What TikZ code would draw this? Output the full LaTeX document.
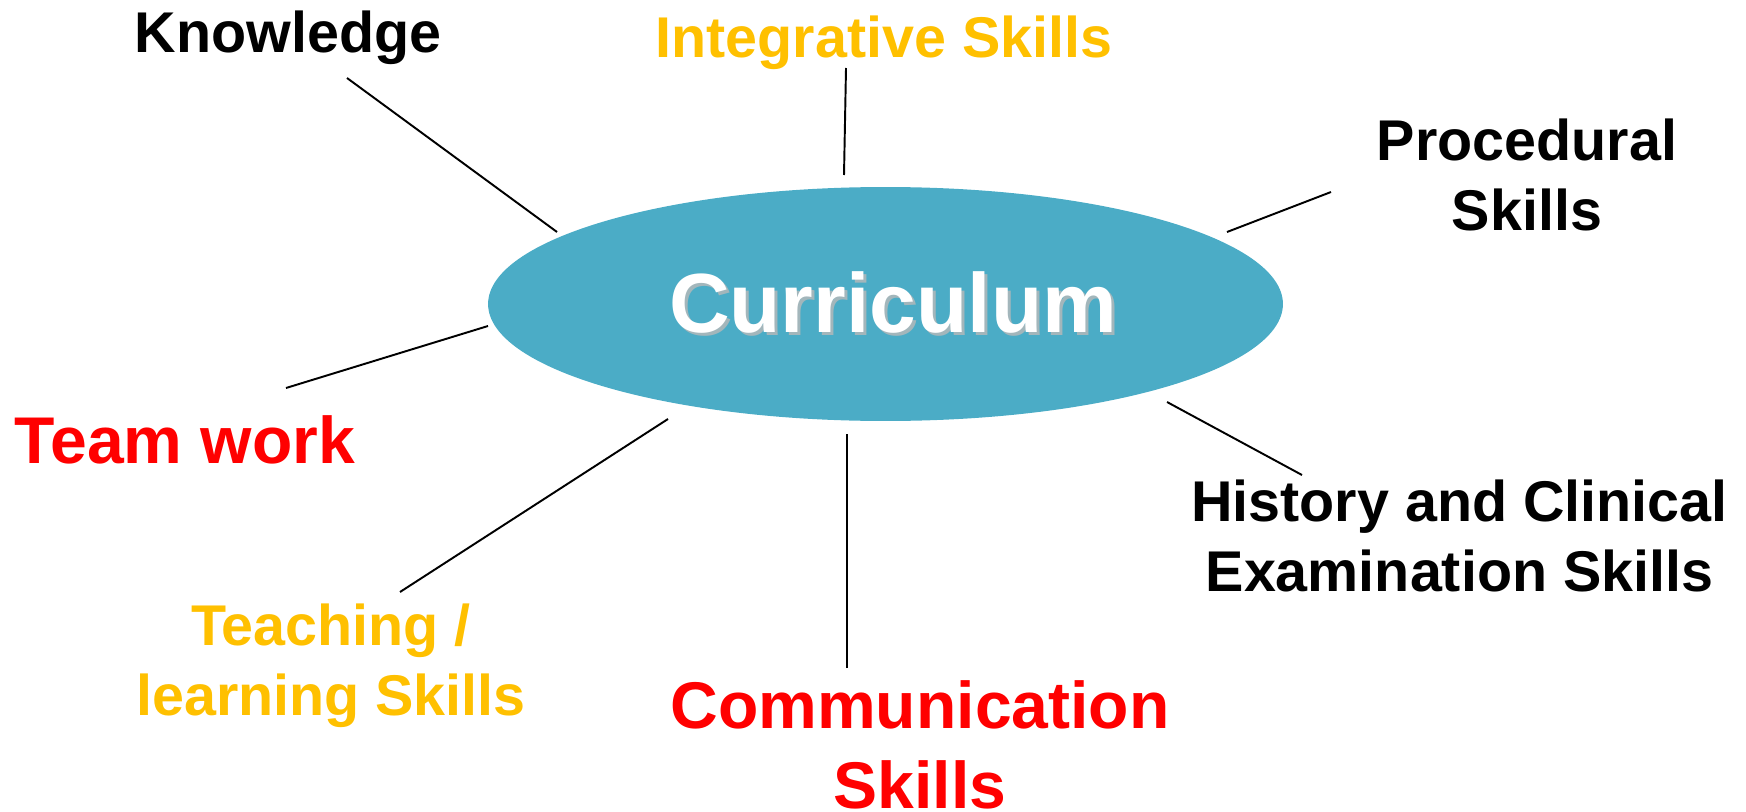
\documentclass[tikz,border=0pt]{standalone}
\usepackage{fontspec}
\setmainfont{Liberation Sans}
\usepackage{xcolor}
\usetikzlibrary{calc,shapes.geometric}

\definecolor{hubblue}{HTML}{4BACC6}
\definecolor{skillyellow}{HTML}{FFC000}
\definecolor{skillred}{HTML}{FF0000}

\newcommand{\skillfont}{\bfseries\fontsize{32.7pt}{39.3pt}\selectfont}
\newcommand{\bigskillfont}{\bfseries\fontsize{37.6pt}{45.5pt}\selectfont}
\newcommand{\hubfont}{\bfseries\fontsize{47.8pt}{57pt}\selectfont}

\begin{document}
\begin{tikzpicture}[x=0.02cm, y=-0.02cm,
  lbl/.style={inner sep=0, anchor=base, align=center, font=\skillfont},
  biglbl/.style={lbl, font=\bigskillfont},
  spoke/.style={line width=1.1pt, black}]

\useasboundingbox (0,0) rectangle (1746,811);

\node[ellipse, fill=hubblue, inner sep=0, minimum width=15.9cm, minimum height=4.68cm] (hub) at (885.5,304) {};

% text shadow, then the white title on top
\node[lbl, font=\hubfont, text=gray!55, opacity=.8] (hubshadow) at (896,335) {Curriculum};
\node[lbl, font=\hubfont, text=white] (hubtext) at (893,332) {Curriculum};

% multi-line labels sit on the baseline of their last line
\node[lbl, text=black] (know) at (288,53) {Knowledge};
\node[lbl, text=skillyellow] (integ) at (884,58) {Integrative Skills};
\node[lbl, text=black] (proc) at (1527,230) {Procedural\\ Skills};
\node[lbl, text=black] (hist) at (1459.5,591) {History and Clinical\\ Examination Skills};
\node[biglbl, text=skillred] (team) at (185,463) {Team work};
\node[lbl, text=skillyellow] (teach) at (331,715) {Teaching /\\ learning Skills};
\node[biglbl, text=skillred] (comm) at (920,808) {Communication\\ Skills};

\coordinate (know-a) at (347,78);   \coordinate (know-b) at (557,232);
\coordinate (integ-a) at (846,68);  \coordinate (integ-b) at (844,175);
\coordinate (proc-a) at (1331,192); \coordinate (proc-b) at (1227,232);
\coordinate (hist-a) at (1302,475); \coordinate (hist-b) at (1167,402);
\coordinate (team-a) at (286,388);  \coordinate (team-b) at (488,326);
\coordinate (teach-a) at (400,592); \coordinate (teach-b) at (668,419);
\coordinate (comm-a) at (847,668);  \coordinate (comm-b) at (847,434);

\draw[spoke] (know-a) -- (know-b);
\draw[spoke] (integ-a) -- (integ-b);
\draw[spoke] (proc-a) -- (proc-b);
\draw[spoke] (hist-a) -- (hist-b);
\draw[spoke] (team-a) -- (team-b);
\draw[spoke] (teach-a) -- (teach-b);
\draw[spoke] (comm-a) -- (comm-b);

\end{tikzpicture}
\end{document}
